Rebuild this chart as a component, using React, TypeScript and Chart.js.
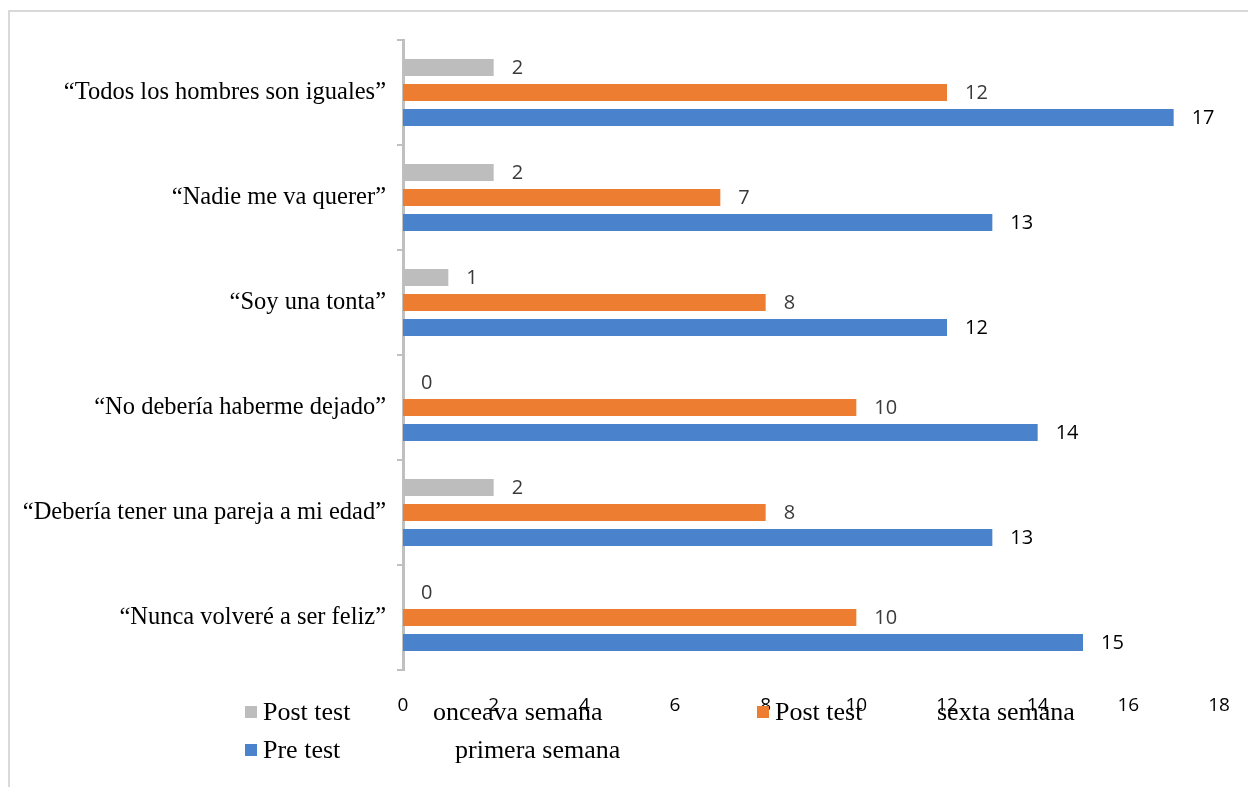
import React, { useEffect, useRef } from "react";
import { Chart, registerables } from "chart.js";

Chart.register(...registerables);

const categories = [
  "“Todos los hombres son iguales”",
  "“Nadie me va querer”",
  "“Soy una tonta”",
  "“No debería haberme dejado”",
  "“Debería tener una pareja a mi edad”",
  "“Nunca volveré a ser feliz”",
];
const postOnceava = [2, 2, 1, 0, 2, 0];
const postSexta = [12, 7, 8, 10, 8, 10];
const preTest = [17, 13, 12, 14, 13, 15];
const xTicks = [0, 2, 4, 6, 8, 10, 12, 14, 16, 18];

const seriesNames = [
  ["Post test", "onceava semana"],
  ["Post test", "sexta semana"],
  ["Pre test", "primera semana"],
];
const seriesColors = ["#bdbdbd", "#ed7d31", "#4a82cb"];
const labelColors = ["#3a3a3a", "#3a3a3a", "#000000"];

const W = 1248;
const H = 787;

const valueLabels = {
  id: "valueLabels",
  afterDatasetsDraw(chart: any) {
    const ctx = chart.ctx;
    ctx.save();
    ctx.font = "20px 'Open Sans'";
    ctx.textBaseline = "middle";
    ctx.textAlign = "left";
    chart.data.datasets.forEach((ds: any, i: number) => {
      const meta = chart.getDatasetMeta(i);
      meta.data.forEach((bar: any, j: number) => {
        ctx.fillStyle = labelColors[i];
        ctx.fillText(String(ds.data[j]), bar.x + 18, bar.y + 1);
      });
    });
    ctx.restore();
  },
};

const customLegend = {
  id: "customLegend",
  afterDraw(chart: any) {
    const ctx = chart.ctx;
    ctx.save();
    ctx.font = "26px 'Liberation Serif'";
    ctx.textBaseline = "middle";
    ctx.textAlign = "left";
    const items = [
      { bx: 245, tx: 263, t2x: 433, y: 712 },
      { bx: 757, tx: 775, t2x: 937, y: 712 },
      { bx: 245, tx: 263, t2x: 455, y: 750 },
    ];
    items.forEach((it, i) => {
      ctx.fillStyle = seriesColors[i];
      ctx.fillRect(it.bx, it.y - 6, 12, 12);
      ctx.fillStyle = "#000";
      ctx.fillText(seriesNames[i][0], it.tx, it.y + 1);
      ctx.fillText(seriesNames[i][1], it.t2x, it.y + 1);
    });
    ctx.restore();
  },
};

export default function App() {
  const ref = useRef<HTMLCanvasElement>(null);
  useEffect(() => {
    if (!ref.current) return;
    const chart = new Chart(ref.current, {
      type: "bar",
      data: {
        labels: categories,
        datasets: [postOnceava, postSexta, preTest].map((d, i) => ({
          label: seriesNames[i].join(" "),
          data: d,
          backgroundColor: seriesColors[i],
          categoryPercentage: 0.714,
          barPercentage: 0.68,
        })),
      },
      options: {
        indexAxis: "y",
        responsive: false,
        animation: false,
        layout: { padding: { top: 40, right: 29, left: 0, bottom: 0 } },
        plugins: { legend: { display: false }, tooltip: { enabled: false } },
        scales: {
          x: {
            min: 0,
            max: 18,
            afterFit(scale: any) {
              scale.height = 117;
              scale.paddingRight = 0;
              scale.paddingLeft = 0;
            },
            afterBuildTicks(scale: any) {
              scale.ticks = xTicks.map((v) => ({ value: v }));
            },
            grid: { display: false, drawTicks: false },
            border: { display: false },
            ticks: {
              padding: 24,
              color: "#000",
              font: { family: "'Open Sans'", size: 19 },
            },
          },
          y: {
            afterFit(scale: any) {
              scale.width = 403;
            },
            grid: {
              display: true,
              drawOnChartArea: false,
              drawTicks: true,
              tickLength: 6,
              color: "#c0c0c0",
              lineWidth: 2,
              offset: true,
            },
            border: { display: true, color: "#c0c0c0", width: 3 },
            ticks: {
              padding: 11,
              color: "#000",
              font: { family: "'Liberation Serif'", size: 24.5 },
            },
          },
        },
      },
      plugins: [valueLabels, customLegend],
    });
    return () => chart.destroy();
  }, []);

  return (
    <div
      style={{
        position: "fixed",
        left: 0,
        top: 0,
        width: W,
        height: H,
        overflow: "hidden",
        background: "#fff",
      }}
    >
      <div
        style={{
          position: "absolute",
          left: 8,
          top: 10,
          width: W + 20,
          height: H + 20,
          borderTop: "2px solid #d9d9d9",
          borderLeft: "2px solid #d9d9d9",
        }}
      />
      <canvas
        ref={ref}
        width={W}
        height={H}
        style={{ position: "absolute", left: 0, top: 0, width: W, height: H }}
      />
    </div>
  );
}
